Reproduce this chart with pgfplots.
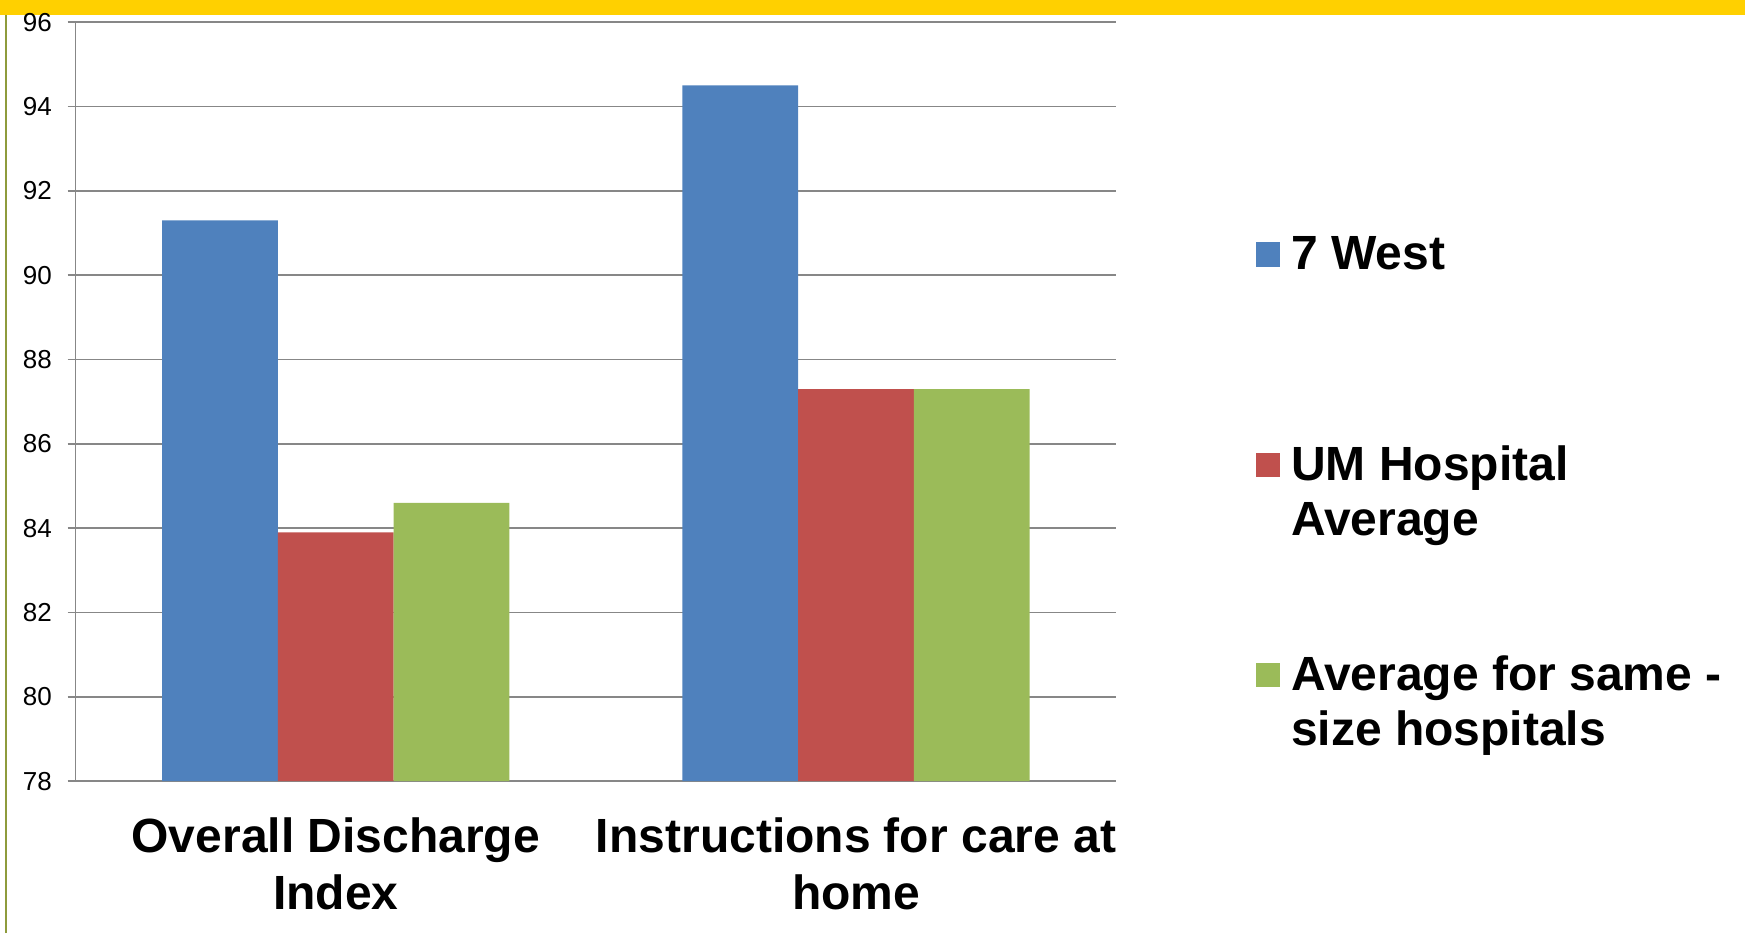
\documentclass[border=0pt]{standalone}
\usepackage{fontspec}
\setmainfont{Liberation Sans}
\usepackage{pgfplots}
\pgfplotsset{compat=1.18}
\definecolor{bblue}{HTML}{4F81BD}
\definecolor{bred}{HTML}{C0504D}
\definecolor{bgreen}{HTML}{9BBB59}
\definecolor{gridgray}{HTML}{878787}
\definecolor{topyellow}{HTML}{FFD000}
\definecolor{oliveline}{HTML}{8E9B3C}
\begin{document}
\begin{tikzpicture}
\path[use as bounding box] (-37.8pt,-75.9pt) rectangle (834.7pt,390.6pt);
\draw[oliveline, line width=1pt] (-34.8pt,-75.9pt) -- (-34.8pt,390.6pt);
\fill[topyellow] (-37.8pt,383.1pt) rectangle (834.7pt,390.6pt);
\begin{axis}[
  at={(0,0)}, anchor=south west,
  scale only axis, width=520.3pt, height=379.5pt,
  xmin=-0.5, xmax=1.5, ymin=78, ymax=96,
  ytick={78,80,...,96},
  /pgf/number format/assume math mode=true,
  axis x line*=bottom, axis y line*=left,
  axis line style={gridgray, line width=0.75pt, -},
  ymajorgrids, grid style={gridgray, line width=0.75pt},
  tick style={gridgray, line width=0.75pt},
  tick align=outside,
  major tick length=4pt,
  xtick={0,1},
  xticklabels={{Overall Discharge\\Index},{Instructions for care at\\home}},
  x tick style={draw=none},
  extra x ticks={-0.5,0.5,1.5},
  extra x tick labels={},
  extra x tick style={major tick length=7pt, grid=none, tick style={gridgray, line width=0.75pt}},
  xticklabel style={font=\bfseries\fontsize{24}{28.8}\selectfont, align=center, anchor=north, yshift=-10.5pt},
  yticklabel style={font=\fontsize{13}{15}\selectfont, anchor=east, inner sep=0pt, xshift=-7.7pt},
  ybar, bar width=0.2225,
  legend style={draw=none, fill=none, at={(1.1338,0.7252)}, anchor=north west,
    inner sep=0pt, font=\bfseries\fontsize{24}{27.6}\selectfont,
    nodes={inner sep=0pt}, cells={anchor=base west}, /tikz/row sep=84.3pt, /tikz/column sep=5.5pt},
  legend image code/.code={\path[#1, draw=none] (0pt,1.5pt) rectangle (12.2pt,13.7pt);},
]
\addplot[fill=bblue, draw=none, bar shift=-0.2225] coordinates {(0,91.3) (1,94.5)};
\addplot[fill=bred, draw=none, bar shift=0] coordinates {(0,83.9) (1,87.3)};
\addplot[fill=bgreen, draw=none, bar shift=0.2225] coordinates {(0,84.6) (1,87.3)};
\addlegendentry{\begin{tabular}[t]{@{}l@{}}7 West\\ \end{tabular}}
\addlegendentry{\begin{tabular}[t]{@{}l@{}}UM Hospital\\Average\end{tabular}}
\addlegendentry{\begin{tabular}[t]{@{}l@{}}Average for same -\\size hospitals\end{tabular}}
\end{axis}
\end{tikzpicture}
\end{document}
